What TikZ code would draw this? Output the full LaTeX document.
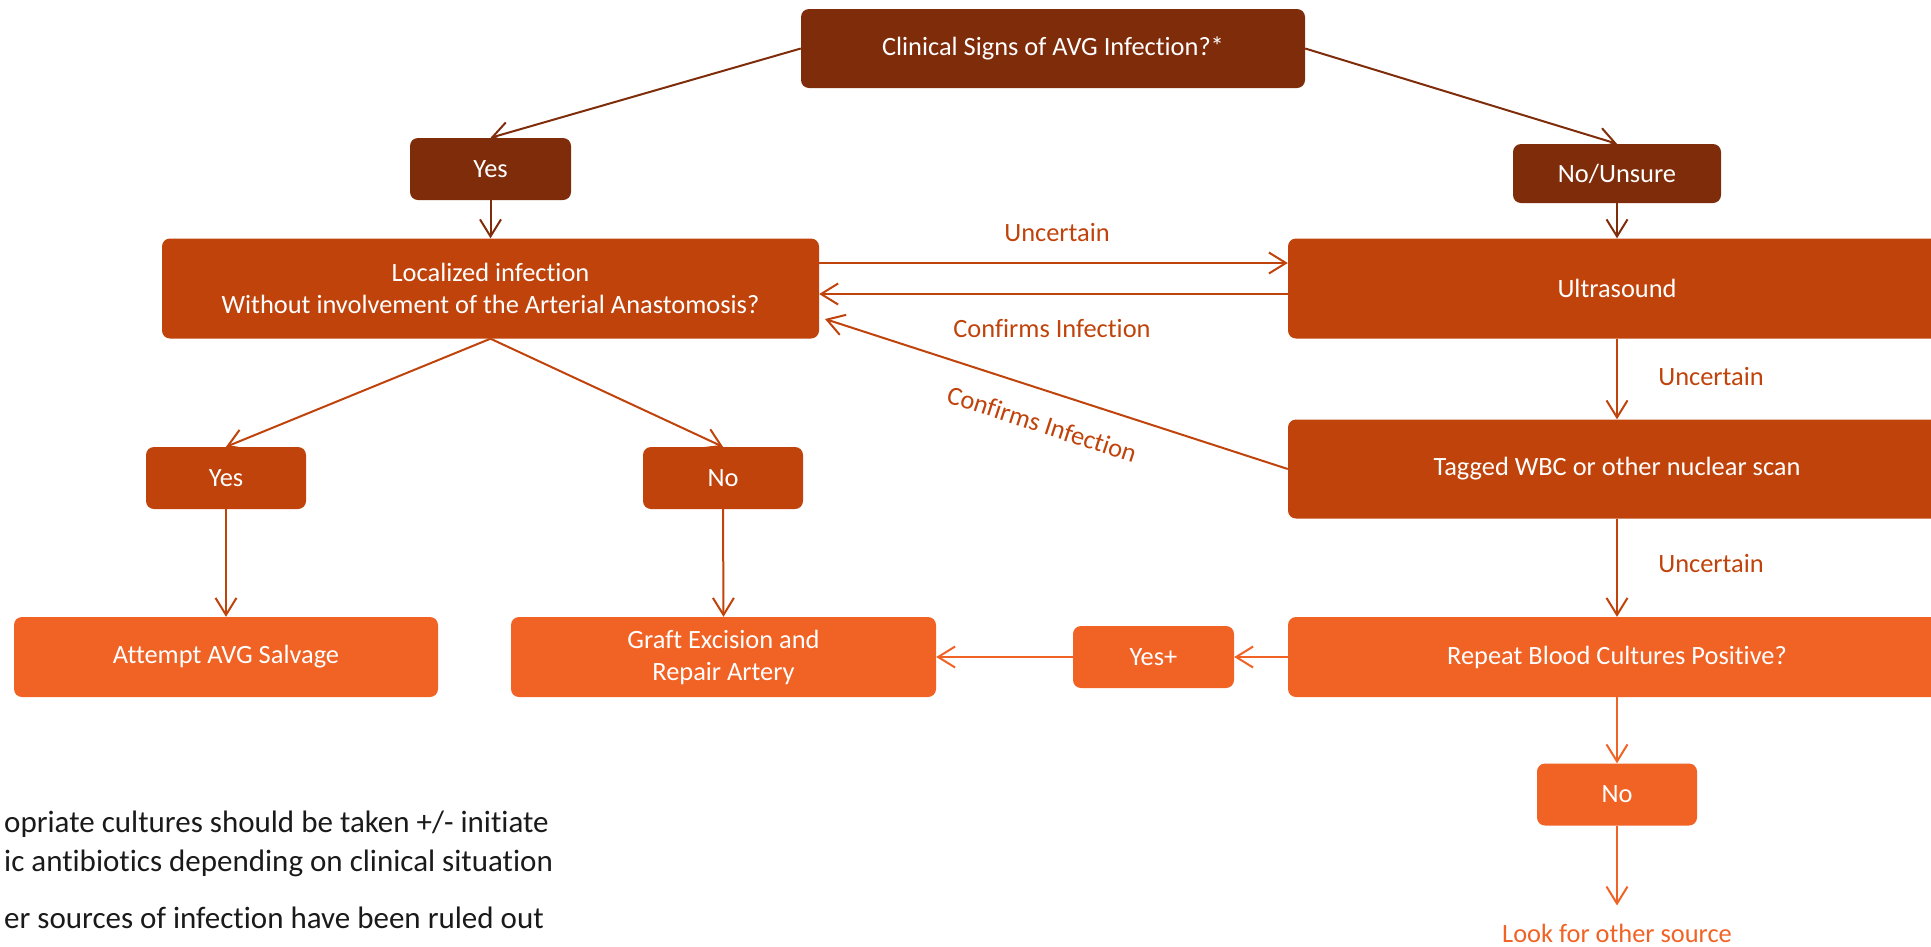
\documentclass[tikz,border=0pt]{standalone}
\usepackage{fontspec}
\setmainfont{Carlito}[Ligatures=NoCommon]
\usetikzlibrary{arrows.meta}
\definecolor{cdark}{HTML}{7F2C0B}
\definecolor{cmed}{HTML}{C0430B}
\definecolor{clight}{HTML}{F16225}
\definecolor{cnote}{HTML}{1A1A1A}
\begin{document}
\begin{tikzpicture}[x=1pt,y=-1pt,
  box/.style={rounded corners=8pt, text=white, align=center, inner sep=0pt,
    font=\fontsize{26.4}{32}\selectfont},
  lbl/.style={inner sep=0pt, font=\fontsize{26.4}{32}\selectfont},
  note/.style={inner sep=0pt, anchor=base west, text=cnote, font=\fontsize{31}{37}\selectfont},
  tip/.style={-{Straight Barb[length=17pt,width=21pt]}},
  arrD/.style={draw=cdark, line width=2pt, tip},
  arrM/.style={draw=cmed, line width=2pt, tip},
  arrL/.style={draw=clight, line width=2pt, tip}]
\clip (0,0) rectangle (1931,946);
\useasboundingbox (0,0) rectangle (1931,946);

% nodes
\node[box, fill=cdark, minimum width=504pt, minimum height=79pt] (clin) at (1053,48.5) {Clinical Signs of AVG Infection?*};
\node[box, fill=cdark, minimum width=161pt, minimum height=62pt] (yes1) at (490.5,169) {Yes};
\node[box, fill=cdark, minimum width=208pt, minimum height=59pt] (nou) at (1617,173.5) {No/Unsure};
\node[box, fill=cmed, minimum width=657pt, minimum height=100pt] (loc) at (490.5,288.5) {Localized infection\\Without involvement of the Arterial Anastomosis?};
\node[box, fill=cmed, minimum width=658pt, minimum height=100pt] (us) at (1617,288.5) {Ultrasound};
\node[box, fill=cmed, minimum width=658pt, minimum height=99pt] (tag) at (1617,469) {Tagged WBC or other nuclear scan};
\node[box, fill=cmed, minimum width=160pt, minimum height=62pt] (yes2) at (226,478) {Yes};
\node[box, fill=cmed, minimum width=160pt, minimum height=62pt] (no2) at (723,478) {No};
\node[box, fill=clight, minimum width=424pt, minimum height=80pt] (att) at (226,657) {Attempt AVG Salvage};
\node[box, fill=clight, minimum width=425pt, minimum height=80pt] (graft) at (723.5,657) {Graft Excision and\\Repair Artery};
\node[box, fill=clight, minimum width=161pt, minimum height=62pt] (yesp) at (1153.5,657) {Yes+};
\node[box, fill=clight, minimum width=658pt, minimum height=80pt] (rep) at (1617,657) {Repeat Blood Cultures Positive?};
\node[box, fill=clight, minimum width=160pt, minimum height=62pt] (no3) at (1617,794.5) {No};
\node[lbl, text=clight, inner ysep=18pt, anchor=base] (look) at (1617,942) {Look for other source};

% labels
\node[lbl, text=cmed] (l1) at (1057,233) {Uncertain};
\node[lbl, text=cmed] (l2) at (1052,329) {Confirms Infection};
\node[lbl, text=cmed] (l3) at (1711,377) {Uncertain};
\node[lbl, text=cmed] (l4) at (1711,564) {Uncertain};
\node[lbl, text=cmed, rotate=-18] (l5) at (1042,424) {Confirms Infection};

% footnotes
\node[note] (n1) at (4,832) {opriate cultures should be taken +/- initiate};
\node[note] (n2) at (4,871) {ic antibiotics depending on clinical situation};
\node[note] (n3) at (4,928) {er sources of infection have been ruled out};

% connectors
\draw[arrD] (clin.west) -- (yes1.north);
\draw[arrD] (clin.east) -- (nou.north);
\draw[arrD] (yes1.south) -- (loc.north);
\draw[arrD] (nou.south) -- (us.north);
\draw[arrM] ([yshift=25.5pt]loc.east) -- ([yshift=25.5pt]us.west);
\draw[arrM] ([yshift=-5.5pt]us.west) -- ([yshift=-5.5pt]loc.east);
\coordinate (dtip) at (825,319);
\draw[arrM] (tag.west) -- (dtip);
\draw[arrM] (us.south) -- (tag.north);
\draw[arrM] (tag.south) -- (rep.north);
\draw[arrM] (loc.south) -- (yes2.north);
\draw[arrM] (loc.south) -- (no2.north);
\draw[arrM] (yes2.south) -- (att.north);
\draw[arrM] (no2.south) -- (graft.north);
\draw[arrL] (rep.west) -- (yesp.east);
\draw[arrL] (yesp.west) -- (graft.east);
\draw[arrL] (rep.south) -- (no3.north);
\draw[arrL] (no3.south) -- (look.north);
\end{tikzpicture}
\end{document}
